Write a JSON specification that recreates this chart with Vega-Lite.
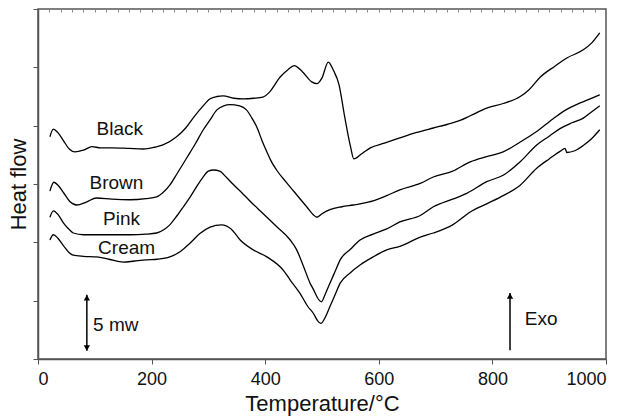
{
  "$schema": "https://vega.github.io/schema/vega-lite/v6.json",
  "width": 568,
  "height": 350,
  "autosize": "none",
  "padding": {"left": 38, "top": 9, "right": 23, "bottom": 58},
  "background": "white",
  "config": {
    "view": {"stroke": "#555", "strokeWidth": 1.5},
    "font": "Liberation Sans",
    "axis": {
      "domainColor": "#555", "domainWidth": 1.5, "tickColor": "#555", "tickWidth": 1,
      "grid": false, "labelFont": "Liberation Sans", "titleFont": "Liberation Sans",
      "labelColor": "#111", "titleColor": "#111", "titleFontWeight": "normal"
    }
  },
  "resolve": {"axis": {"x": "independent"}},
  "datasets": {
    "curves": [
      {"series":"Black","T":21,"v":3.81},{"series":"Black","T":27,"v":3.94},{"series":"Black","T":35,"v":3.88},{"series":"Black","T":45,"v":3.74},{"series":"Black","T":55,"v":3.60},{"series":"Black","T":65,"v":3.55},{"series":"Black","T":80,"v":3.58},{"series":"Black","T":95,"v":3.64},{"series":"Black","T":110,"v":3.62},{"series":"Black","T":130,"v":3.62},{"series":"Black","T":160,"v":3.61},{"series":"Black","T":185,"v":3.60},{"series":"Black","T":205,"v":3.63},{"series":"Black","T":220,"v":3.67},{"series":"Black","T":244,"v":3.81},{"series":"Black","T":260,"v":3.96},{"series":"Black","T":273,"v":4.13},{"series":"Black","T":290,"v":4.33},{"series":"Black","T":303,"v":4.46},{"series":"Black","T":315,"v":4.50},{"series":"Black","T":326,"v":4.51},{"series":"Black","T":345,"v":4.47},{"series":"Black","T":361,"v":4.46},{"series":"Black","T":380,"v":4.47},{"series":"Black","T":396,"v":4.49},{"series":"Black","T":408,"v":4.58},{"series":"Black","T":426,"v":4.83},{"series":"Black","T":440,"v":4.96},{"series":"Black","T":451,"v":5.03},{"series":"Black","T":465,"v":4.93},{"series":"Black","T":482,"v":4.75},{"series":"Black","T":491,"v":4.72},{"series":"Black","T":500,"v":4.82},{"series":"Black","T":511,"v":5.09},{"series":"Black","T":520,"v":4.95},{"series":"Black","T":530,"v":4.70},{"series":"Black","T":540,"v":4.15},{"series":"Black","T":550,"v":3.65},{"series":"Black","T":556,"v":3.43},{"series":"Black","T":570,"v":3.52},{"series":"Black","T":585,"v":3.62},{"series":"Black","T":610,"v":3.70},{"series":"Black","T":637,"v":3.79},{"series":"Black","T":665,"v":3.88},{"series":"Black","T":696,"v":3.96},{"series":"Black","T":720,"v":4.02},{"series":"Black","T":743,"v":4.09},{"series":"Black","T":761,"v":4.17},{"series":"Black","T":790,"v":4.30},{"series":"Black","T":819,"v":4.38},{"series":"Black","T":849,"v":4.50},{"series":"Black","T":865,"v":4.62},{"series":"Black","T":884,"v":4.83},{"series":"Black","T":910,"v":5.02},{"series":"Black","T":931,"v":5.16},{"series":"Black","T":960,"v":5.30},{"series":"Black","T":975,"v":5.42},{"series":"Black","T":989,"v":5.59},

      {"series":"Brown","T":21,"v":2.88},{"series":"Brown","T":28,"v":3.03},{"series":"Brown","T":36,"v":2.97},{"series":"Brown","T":45,"v":2.85},{"series":"Brown","T":56,"v":2.70},{"series":"Brown","T":68,"v":2.64},{"series":"Brown","T":85,"v":2.69},{"series":"Brown","T":103,"v":2.76},{"series":"Brown","T":130,"v":2.74},{"series":"Brown","T":162,"v":2.73},{"series":"Brown","T":190,"v":2.75},{"series":"Brown","T":209,"v":2.78},{"series":"Brown","T":222,"v":2.87},{"series":"Brown","T":232,"v":2.98},{"series":"Brown","T":245,"v":3.18},{"series":"Brown","T":262,"v":3.45},{"series":"Brown","T":277,"v":3.69},{"series":"Brown","T":291,"v":3.93},{"series":"Brown","T":303,"v":4.10},{"series":"Brown","T":315,"v":4.27},{"series":"Brown","T":327,"v":4.34},{"series":"Brown","T":338,"v":4.36},{"series":"Brown","T":355,"v":4.34},{"series":"Brown","T":367,"v":4.27},{"series":"Brown","T":376,"v":4.14},{"series":"Brown","T":385,"v":3.98},{"series":"Brown","T":395,"v":3.73},{"series":"Brown","T":403,"v":3.55},{"series":"Brown","T":410,"v":3.40},{"series":"Brown","T":420,"v":3.24},{"series":"Brown","T":438,"v":3.02},{"series":"Brown","T":455,"v":2.82},{"series":"Brown","T":473,"v":2.61},{"series":"Brown","T":485,"v":2.47},{"series":"Brown","T":491,"v":2.43},{"series":"Brown","T":500,"v":2.49},{"series":"Brown","T":514,"v":2.56},{"series":"Brown","T":535,"v":2.61},{"series":"Brown","T":555,"v":2.64},{"series":"Brown","T":567,"v":2.66},{"series":"Brown","T":590,"v":2.71},{"series":"Brown","T":614,"v":2.80},{"series":"Brown","T":637,"v":2.90},{"series":"Brown","T":673,"v":3.01},{"series":"Brown","T":696,"v":3.12},{"series":"Brown","T":730,"v":3.22},{"series":"Brown","T":761,"v":3.38},{"series":"Brown","T":790,"v":3.47},{"series":"Brown","T":819,"v":3.55},{"series":"Brown","T":849,"v":3.72},{"series":"Brown","T":878,"v":3.90},{"series":"Brown","T":907,"v":4.12},{"series":"Brown","T":931,"v":4.28},{"series":"Brown","T":948,"v":4.36},{"series":"Brown","T":970,"v":4.45},{"series":"Brown","T":989,"v":4.53},

      {"series":"Pink","T":21,"v":2.43},{"series":"Pink","T":27,"v":2.54},{"series":"Pink","T":35,"v":2.48},{"series":"Pink","T":45,"v":2.33},{"series":"Pink","T":55,"v":2.22},{"series":"Pink","T":62,"v":2.16},{"series":"Pink","T":80,"v":2.13},{"series":"Pink","T":103,"v":2.13},{"series":"Pink","T":130,"v":2.13},{"series":"Pink","T":162,"v":2.13},{"series":"Pink","T":190,"v":2.14},{"series":"Pink","T":209,"v":2.16},{"series":"Pink","T":222,"v":2.22},{"series":"Pink","T":232,"v":2.30},{"series":"Pink","T":245,"v":2.46},{"series":"Pink","T":256,"v":2.61},{"series":"Pink","T":268,"v":2.78},{"series":"Pink","T":279,"v":2.95},{"series":"Pink","T":290,"v":3.11},{"series":"Pink","T":300,"v":3.22},{"series":"Pink","T":309,"v":3.24},{"series":"Pink","T":320,"v":3.22},{"series":"Pink","T":332,"v":3.11},{"series":"Pink","T":344,"v":2.99},{"series":"Pink","T":358,"v":2.86},{"series":"Pink","T":373,"v":2.71},{"series":"Pink","T":390,"v":2.55},{"series":"Pink","T":403,"v":2.43},{"series":"Pink","T":420,"v":2.27},{"series":"Pink","T":444,"v":2.04},{"series":"Pink","T":455,"v":1.88},{"series":"Pink","T":467,"v":1.60},{"series":"Pink","T":479,"v":1.30},{"series":"Pink","T":485,"v":1.19},{"series":"Pink","T":492,"v":1.05},{"series":"Pink","T":499,"v":0.98},{"series":"Pink","T":506,"v":1.12},{"series":"Pink","T":514,"v":1.30},{"series":"Pink","T":523,"v":1.50},{"series":"Pink","T":532,"v":1.70},{"series":"Pink","T":550,"v":1.88},{"series":"Pink","T":567,"v":2.04},{"series":"Pink","T":590,"v":2.14},{"series":"Pink","T":614,"v":2.23},{"series":"Pink","T":637,"v":2.35},{"series":"Pink","T":673,"v":2.46},{"series":"Pink","T":696,"v":2.61},{"series":"Pink","T":730,"v":2.74},{"series":"Pink","T":755,"v":2.84},{"series":"Pink","T":790,"v":3.04},{"series":"Pink","T":819,"v":3.15},{"series":"Pink","T":849,"v":3.38},{"series":"Pink","T":878,"v":3.67},{"series":"Pink","T":900,"v":3.82},{"series":"Pink","T":919,"v":3.95},{"series":"Pink","T":940,"v":4.05},{"series":"Pink","T":960,"v":4.13},{"series":"Pink","T":975,"v":4.24},{"series":"Pink","T":989,"v":4.34},

      {"series":"Cream","T":21,"v":2.04},{"series":"Cream","T":27,"v":2.13},{"series":"Cream","T":35,"v":2.07},{"series":"Cream","T":45,"v":1.94},{"series":"Cream","T":55,"v":1.82},{"series":"Cream","T":62,"v":1.78},{"series":"Cream","T":80,"v":1.76},{"series":"Cream","T":103,"v":1.75},{"series":"Cream","T":125,"v":1.71},{"series":"Cream","T":150,"v":1.66},{"series":"Cream","T":170,"v":1.68},{"series":"Cream","T":191,"v":1.70},{"series":"Cream","T":210,"v":1.71},{"series":"Cream","T":232,"v":1.75},{"series":"Cream","T":250,"v":1.84},{"series":"Cream","T":268,"v":1.99},{"series":"Cream","T":285,"v":2.15},{"series":"Cream","T":303,"v":2.26},{"series":"Cream","T":323,"v":2.30},{"series":"Cream","T":340,"v":2.23},{"series":"Cream","T":356,"v":2.04},{"series":"Cream","T":379,"v":1.87},{"series":"Cream","T":403,"v":1.75},{"series":"Cream","T":432,"v":1.52},{"series":"Cream","T":445,"v":1.34},{"series":"Cream","T":461,"v":1.13},{"series":"Cream","T":475,"v":0.90},{"series":"Cream","T":485,"v":0.78},{"series":"Cream","T":492,"v":0.66},{"series":"Cream","T":498,"v":0.61},{"series":"Cream","T":506,"v":0.72},{"series":"Cream","T":514,"v":0.90},{"series":"Cream","T":523,"v":1.10},{"series":"Cream","T":532,"v":1.30},{"series":"Cream","T":550,"v":1.48},{"series":"Cream","T":567,"v":1.61},{"series":"Cream","T":590,"v":1.75},{"series":"Cream","T":614,"v":1.87},{"series":"Cream","T":637,"v":1.93},{"series":"Cream","T":673,"v":2.09},{"series":"Cream","T":696,"v":2.16},{"series":"Cream","T":730,"v":2.30},{"series":"Cream","T":761,"v":2.52},{"series":"Cream","T":790,"v":2.66},{"series":"Cream","T":819,"v":2.80},{"series":"Cream","T":849,"v":2.98},{"series":"Cream","T":878,"v":3.27},{"series":"Cream","T":900,"v":3.43},{"series":"Cream","T":919,"v":3.56},{"series":"Cream","T":928,"v":3.61},{"series":"Cream","T":931,"v":3.54},{"series":"Cream","T":945,"v":3.57},{"series":"Cream","T":960,"v":3.66},{"series":"Cream","T":975,"v":3.78},{"series":"Cream","T":989,"v":3.93}
    ],
    "labels": [
      {"text":"Black","T":144,"v":3.95},
      {"text":"Brown","T":138,"v":3.02},
      {"text":"Pink","T":147,"v":2.40},
      {"text":"Cream","T":156,"v":1.90}
    ],
    "notes": [
      {"text":"5 mw","T":97,"v":0.58},
      {"text":"Exo","T":857,"v":0.68}
    ],
    "arrows": [
      {"T":86,"v":0.14,"v2":1.10},
      {"T":831,"v":0.15,"v2":1.13}
    ],
    "heads": [
      {"T":86,"v":1.05,"shape":"triangle-up"},
      {"T":86,"v":0.19,"shape":"triangle-down"},
      {"T":831,"v":1.08,"shape":"triangle-up"}
    ]
  },
  "layer": [
    {
      "data": {"name": "curves"},
      "mark": {"type": "line", "color": "black", "strokeWidth": 1.3, "interpolate": "monotone"},
      "encoding": {
        "x": {"field": "T", "type": "quantitative",
              "scale": {"domain": [0, 1000], "nice": false, "zero": false},
              "axis": {"orient": "bottom", "values": [0,200,400,600,800,1000], "format": "d", "title": "Temperature/°C",
                       "labelFontSize": 18, "titleFontSize": 22, "tickSize": 5, "labelPadding": 6, "titlePadding": 5}},
        "y": {"field": "v", "type": "quantitative",
              "scale": {"domain": [0, 6], "nice": false, "zero": false},
              "axis": {"values": [0,1,2,3,4,5,6], "labels": false, "title": "Heat flow",
                       "titleFontSize": 22, "tickSize": 5, "titlePadding": 2}},
        "detail": {"field": "series"}
      }
    },
    {
      "data": {"name": "labels"},
      "mark": {"type": "text", "fontSize": 19, "font": "Liberation Sans", "color": "#111", "align": "center", "baseline": "middle"},
      "encoding": {
        "x": {"field": "T", "type": "quantitative", "axis": null},
        "y": {"field": "v", "type": "quantitative"},
        "text": {"field": "text"}
      }
    },
    {
      "data": {"name": "notes"},
      "mark": {"type": "text", "fontSize": 19, "font": "Liberation Sans", "color": "#111", "align": "left", "baseline": "middle"},
      "encoding": {
        "x": {"field": "T", "type": "quantitative", "axis": null},
        "y": {"field": "v", "type": "quantitative"},
        "text": {"field": "text"}
      }
    },
    {
      "data": {"name": "arrows"},
      "mark": {"type": "rule", "color": "black", "strokeWidth": 1.5},
      "encoding": {
        "x": {"field": "T", "type": "quantitative", "axis": null},
        "y": {"field": "v", "type": "quantitative"},
        "y2": {"field": "v2"}
      }
    },
    {
      "data": {"name": "heads"},
      "mark": {"type": "point", "filled": true, "color": "black", "size": 40, "opacity": 1},
      "encoding": {
        "x": {"field": "T", "type": "quantitative",
              "axis": {"orient": "top", "values": [0,20,40,60,80,100,120,140,160,180,200,220,240,260,280,300,320,340,360,380,400,420,440,460,480,500,520,540,560,580,600,620,640,660,680,700,720,740,760,780,800,820,840,860,880,900,920,940,960,980,1000],
                       "labels": false, "title": null, "domain": false, "tickSize": -3, "tickColor": "#888"}},
        "y": {"field": "v", "type": "quantitative"},
        "shape": {"field": "shape", "type": "nominal", "scale": null, "legend": null}
      }
    }
  ]
}
